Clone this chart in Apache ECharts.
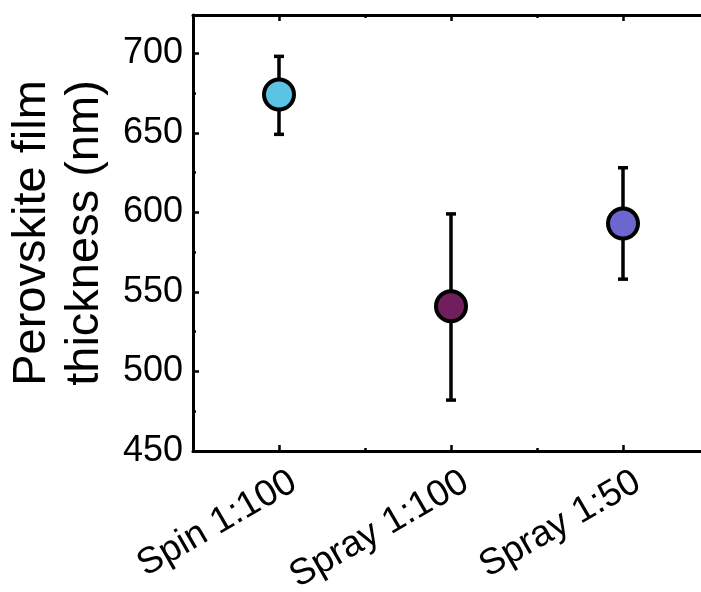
<!DOCTYPE html>
<html>
<head>
<meta charset="utf-8">
<script src="https://cdn.jsdelivr.net/npm/echarts@6/dist/echarts.min.js"></script>
<style>
html,body{margin:0;padding:0;background:#fff;}
#chart{width:701px;height:592px;}
</style>
</head>
<body>
<div id="chart"></div>
<script>
const categories = ['Spin 1:100', 'Spray 1:100', 'Spray 1:50'];
const means = [674, 541, 593];
const lower = [649, 482, 558];
const upper = [698, 599, 628];
const pointColors = ['#5BC4E6', '#701E5C', '#6E66CF'];
const yMin = 450, yMax = 724, yStep = 50;

const FONT = 'Liberation Sans, Arial, sans-serif';
const chart = echarts.init(document.getElementById('chart'));

const baseX = {type: 'category', data: categories, boundaryGap: true, splitLine: {show: false}};
const option = {
  animation: false,
  backgroundColor: '#fff',
  grid: {left: 193, top: 15, width: 516, height: 436, containLabel: false, outerBoundsMode: 'none'},
  xAxis: [
    Object.assign({}, baseX, {
      position: 'bottom',
      axisLine: {show: true, lineStyle: {color: '#000', width: 3}},
      axisTick: {show: true, inside: true, alignWithLabel: true, length: 6, lineStyle: {color: '#000', width: 2.5}},
      axisLabel: {show: true, rotate: 30, interval: 0, fontSize: 37, fontFamily: FONT, color: '#000',
        margin: 37, padding: [0, -17, 0, 0], hideOverlap: false}
    }),
    Object.assign({}, baseX, {
      position: 'bottom',
      axisLine: {show: false},
      axisTick: {show: true, inside: true, length: 3, lineStyle: {color: '#000', width: 2.5}},
      axisLabel: {show: false}
    }),
    Object.assign({}, baseX, {
      position: 'top',
      axisLine: {show: true, lineStyle: {color: '#000', width: 3}},
      axisTick: {show: true, inside: true, alignWithLabel: true, length: 6, lineStyle: {color: '#000', width: 2.5}},
      axisLabel: {show: false}
    }),
    Object.assign({}, baseX, {
      position: 'top',
      axisLine: {show: false},
      axisTick: {show: true, inside: true, length: 3, lineStyle: {color: '#000', width: 2.5}},
      axisLabel: {show: false}
    })
  ],
  yAxis: [
    {
      type: 'value', position: 'left', min: yMin, max: yMax, interval: yStep,
      splitLine: {show: false},
      axisLine: {show: true, lineStyle: {color: '#000', width: 3}},
      axisTick: {show: true, inside: true, length: 6, lineStyle: {color: '#000', width: 2.5}},
      axisLabel: {show: true, fontSize: 36, fontFamily: FONT, color: '#000', margin: 10, showMaxLabel: false},
      name: 'Perovskite film\nthickness (nm)',
      nameLocation: 'middle', nameGap: 81, nameRotate: 90,
      nameTextStyle: {fontSize: 47, lineHeight: 53, fontFamily: FONT, color: '#000'}
    },
    {
      type: 'value', position: 'left', min: yMin, max: yMax, interval: yStep / 2,
      splitLine: {show: false},
      axisLine: {show: false},
      axisTick: {show: true, inside: true, length: 3, lineStyle: {color: '#000', width: 2.5}},
      axisLabel: {show: false}
    },
    {
      type: 'value', position: 'right', min: yMin, max: yMax, interval: yStep,
      splitLine: {show: false},
      axisLine: {show: true, lineStyle: {color: '#000', width: 3}},
      axisTick: {show: true, inside: true, length: 6, lineStyle: {color: '#000', width: 2.5}},
      axisLabel: {show: false}
    }
  ],
  series: [
    {
      type: 'custom',
      xAxisIndex: 0, yAxisIndex: 0,
      z: 2,
      data: categories.map((c, i) => [i, lower[i], upper[i]]),
      renderItem: function (params, api) {
        const lo = api.coord([api.value(0), api.value(1)]);
        const hi = api.coord([api.value(0), api.value(2)]);
        const hw = 5;
        const st = {stroke: '#000', lineWidth: 3.5};
        return {
          type: 'group',
          children: [
            {type: 'line', shape: {x1: lo[0], y1: lo[1], x2: hi[0], y2: hi[1]}, style: st},
            {type: 'line', shape: {x1: lo[0] - hw, y1: lo[1], x2: lo[0] + hw, y2: lo[1]}, style: st},
            {type: 'line', shape: {x1: hi[0] - hw, y1: hi[1], x2: hi[0] + hw, y2: hi[1]}, style: st}
          ]
        };
      }
    },
    {
      type: 'scatter',
      xAxisIndex: 0, yAxisIndex: 0,
      z: 5,
      symbol: 'circle',
      symbolSize: 30,
      data: means.map((v, i) => ({value: [i, v], itemStyle: {color: pointColors[i]}})),
      itemStyle: {borderColor: '#000', borderWidth: 4, opacity: 1}
    }
  ]
};
chart.setOption(option);
</script>
</body>
</html>
